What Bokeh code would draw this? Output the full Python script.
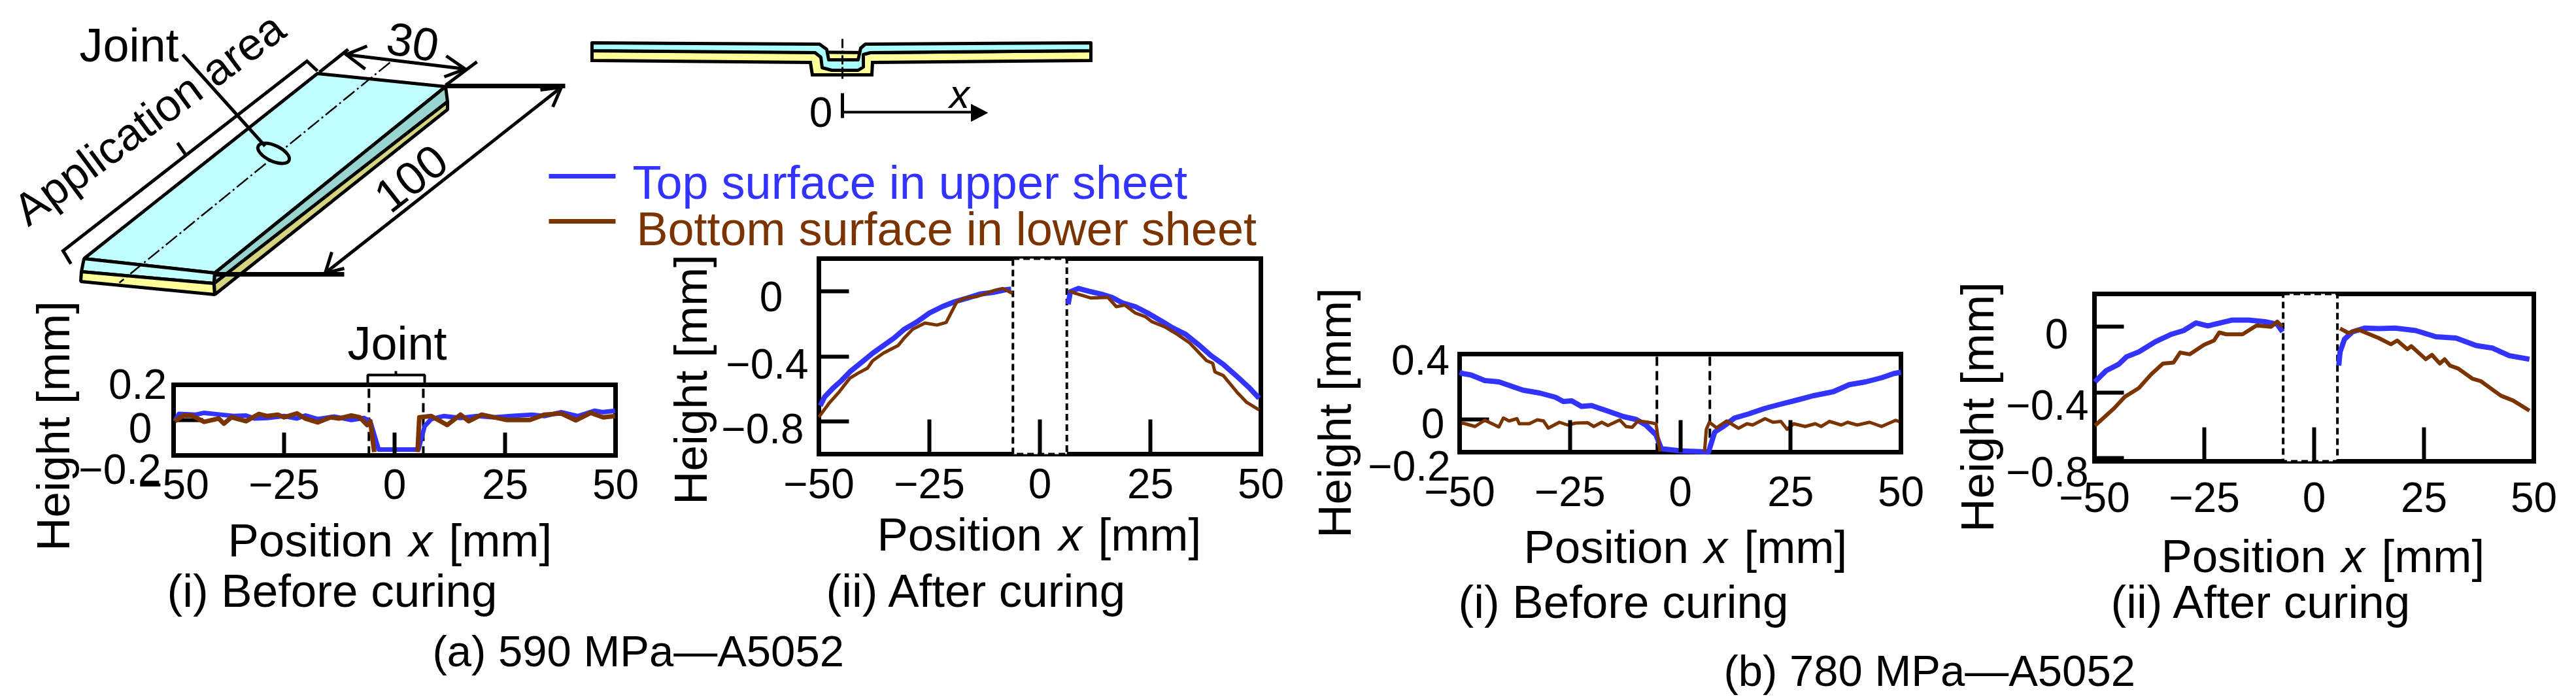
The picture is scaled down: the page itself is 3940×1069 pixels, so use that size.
import math
from bokeh.plotting import figure
from bokeh.models import Range1d, LinearAxis, FixedTicker
from bokeh.core.properties import value
from bokeh.embed import file_html
from bokeh.resources import INLINE

# ---------- chart data (mm, mm) ----------
X_TICKS = [-50, -25, 0, 25, 50]
X_TICK_LABELS = {-50: "\u221250", -25: "\u221225", 0: "0", 25: "25", 50: "50"}
LEGEND_TOP = "Top surface in upper sheet"
LEGEND_BOTTOM = "Bottom surface in lower sheet"

a1_blue_x = [-49.7,-48.8,-45,-43.1,-39.3,-36.4,-33.6,-31.7,-28.8,-25,-22.1,-20.2,-17.4,-13.6,-9.8,-6.9,-5.5,-3.6,5.4,6.8,8.3,11.1,14.9,18.7,22.5,26.3,31.1,33.9,37.7,41.5,45.3,47.2,49.9]
a1_blue_y = [-.006,.035,.031,.041,.031,.023,.026,.009,.012,.023,.009,.026,.006,.02,.001,.012,-.006,-.167,-.167,-.035,.006,.023,.012,.023,.016,.023,.031,.023,.045,.023,.053,.045,.053]
a1_brown_lx = [-49.7,-47.8,-45.9,-43.1,-39.8,-38.6,-36.9,-33.6,-30.7,-28.8,-26.4,-25,-22.1,-20.2,-17.4,-14.5,-12.6,-9.8,-7.9,-6.2,-5.5,-4.6]
a1_brown_ly = [-.006,.026,.026,-.01,.009,-.02,.016,-.006,.035,.023,.031,.016,.038,.009,-.013,.016,.009,.026,.016,-.028,-.006,-.181]
a1_brown_rx = [5.2,5.6,8.3,11.9,14.9,16.8,19.7,22.5,25.4,30.6,33.9,37.7,41,44.4,47.2,49.9]
a1_brown_ry = [-.181,.016,.023,-.028,.031,-.006,.031,.016,.001,.001,.031,.038,-.001,.041,.016,.023]

a2_blue_lx = [-49.7,-48.7,-46.8,-44.9,-43,-40.2,-37.8,-35.4,-33,-30.7,-27.8,-25,-22.1,-19.3,-16.4,-13.6,-10.7,-7.9,-6.5]
a2_blue_ly = [-.703,-.649,-.595,-.549,-.495,-.434,-.38,-.334,-.288,-.234,-.188,-.134,-.095,-.065,-.042,-.018,-.008,.008,.012]
a2_blue_rx = [6.4,6.9,8.7,11.1,13.9,16.3,18.7,21.6,24.4,27.3,30.1,33,35.8,38.7,41.5,44.4,47.2,49.6]
a2_blue_ry = [-.08,-.003,.017,0,-.018,-.038,-.072,-.095,-.134,-.18,-.226,-.265,-.326,-.395,-.449,-.518,-.588,-.657]
a2_brown_lx = [-50,-47.7,-45.4,-43,-41.1,-39,-37.8,-35.4,-32.1,-30.7,-28.8,-26,-23.3,-21.2,-18.8,-16.9,-14.5,-12.6,-10.3,-8.4,-6.2]
a2_brown_ly = [-.772,-.688,-.618,-.534,-.503,-.472,-.426,-.38,-.334,-.288,-.234,-.195,-.208,-.192,-.065,-.042,-.034,-.018,.005,.017,-.014]
a2_brown_rx = [6.6,8.3,11.6,15.4,17.3,19.2,21.6,23.9,25.4,28.2,31.1,33.9,35.8,37.7,39.1,39.6,41.5,43.4,44.8,46.7,49.6]
a2_brown_ry = [0,-.015,-.042,-.038,-.095,-.085,-.134,-.157,-.188,-.218,-.265,-.318,-.372,-.426,-.442,-.495,-.518,-.58,-.626,-.68,-.729]

b1_blue_x = [-50,-49.3,-47.4,-44.3,-41.1,-38.3,-35.6,-31.9,-28.3,-26.5,-24.6,-22.4,-20.1,-16.4,-12.8,-10,-7.8,-5.5,-4.3,0,6.4,7.8,9.6,12.3,15.5,19.2,22.8,26.5,30.1,34.7,38.3,42,45.6,48.4,50]
b1_blue_y = [.289,.281,.272,.238,.23,.204,.179,.162,.136,.11,.114,.08,.085,.051,.017,0,-.034,-.094,-.179,-.192,-.199,-.077,-.046,.009,.034,.068,.094,.119,.145,.17,.213,.23,.255,.281,.289]
b1_brown_lx = [-50,-49.3,-46.5,-44.3,-41.1,-40.1,-38.8,-37,-36.5,-34.2,-32.4,-31,-29.9,-27.4,-25.5,-23.7,-21,-19.6,-17.8,-16.4,-13.7,-12.3,-10.9,-9.6,-7.3,-5.5,-4.6]
b1_brown_ly = [-.034,-.022,-.043,-.005,-.046,.009,-.009,.005,-.026,-.026,-.002,-.009,-.053,-.017,-.034,-.022,-.02,-.043,-.017,-.037,-.003,-.043,-.048,-.009,-.017,-.026,-.196]
b1_brown_rx = [5.5,5.9,6.6,8.2,10.5,13.2,15.1,16.4,19.2,21,22.8,24.2,25.7,28.3,30.6,31.9,33.8,36.5,37.9,40.1,42.9,45.6,48.8,50]
b1_brown_ry = [-.196,-.06,-.017,-.051,-.009,-.054,-.026,-.034,.005,-.017,-.012,-.06,-.026,-.043,-.026,-.043,-.012,-.034,-.017,-.034,-.017,-.043,-.005,-.017]

b2_blue_lx = [-49.9,-47.3,-44.5,-42.7,-39.9,-36.2,-32.5,-29.7,-26.9,-24.2,-21.4,-18.6,-14.9,-11.2,-8.4,-7.2]
b2_blue_ly = [-.336,-.267,-.229,-.183,-.153,-.092,-.046,-.023,.023,.005,.023,.041,.041,.031,.015,-.031]
b2_blue_rx = [5.6,5.9,6.9,8.7,11.5,14.7,18.4,23.1,27.7,32.3,36.9,40.6,44.4,49]
b2_blue_ry = [-.237,-.153,-.076,-.031,-.008,-.011,-.008,-.023,-.061,-.069,-.115,-.13,-.176,-.198]
b2_brown_lx = [-49.9,-45.5,-43.1,-39.9,-37.1,-34.4,-32,-30.5,-28.3,-25.1,-22.8,-21.6,-20,-16.3,-13.1,-9.8,-8.4,-7.3]
b2_brown_ly = [-.603,-.496,-.427,-.374,-.29,-.224,-.218,-.157,-.168,-.111,-.084,-.035,-.046,-.046,.008,0,.031,0]
b2_brown_rx = [5.9,7.8,10.1,14.7,17.5,18.9,21.2,22.1,25.4,26.8,28.6,29.7,30.9,32.8,36,37.9,42.5,45.3,49]
b2_brown_ry = [-.011,-.038,-.018,-.069,-.107,-.084,-.137,-.118,-.198,-.171,-.224,-.198,-.237,-.255,-.316,-.331,-.42,-.45,-.511]

# ---------- style ----------
BLUE = "#3333FF"
BROWN = "#7B3300"
SANS = "Liberation Sans"
FS = 71
TICK_FS = 64
BASE_SHIFT = 0.32  # em, distance between this renderer's anchor and the glyph baseline

W, H = 3940, 1069
p = figure(width=W, height=H, output_backend="svg", toolbar_location=None,
           x_range=Range1d(0, W), y_range=Range1d(H, 0),
           x_axis_location=None, y_axis_location=None, min_border=0)
p.grid.visible = False
p.outline_line_color = None
p.background_fill_color = "white"


def label(x, y, s, size=FS, color="black", align="left", angle=0, style="normal"):
    a = math.radians(angle)
    d = BASE_SHIFT * size
    p.text([x - d * math.sin(a)], [y - d * math.cos(a)], text=[s], text_font=value(SANS),
           text_font_size=value(f"{size}px"), text_color=color,
           text_align=align, text_baseline="alphabetic", angle=angle, angle_units="deg",
           text_font_style=style)


# ---------- panels ----------
PANELS = [
    dict(name="a1", box=(265, 941, 588, 696), yr=(-0.2, 0.2), yt=[0.2, 0, -0.2], tick_in=35, ytick=45,
         ylabels=[("0.2", 210, 607), ("0", 214, 674), ("\u22120.2", 183, 737)], standoff=21,
         joint=(-5.8, 6.5), white=False, height=(104, 651),
         pos=(348, 625, 686, 849), cap=(255, 926, "(i) Before curing"),
         blue=[(a1_blue_x, a1_blue_y)], brown=[(a1_brown_lx, a1_brown_ly), (a1_brown_rx, a1_brown_ry)], bw=7, brw=7),
    dict(name="a2", box=(1252, 1928, 395, 694), yr=(-1.0, 0.2), yt=[0, -0.4, -0.8], tick_in=53, ytick=46,
         ylabels=[("0", 1179, 473), ("\u22120.4", 1173, 576), ("\u22120.8", 1166, 675)], standoff=22,
         joint=(-6.1, 6.1), white=True, height=(1079, 580),
         pos=(1341, 1619, 1679, 840), cap=(1263, 926, "(ii) After curing"),
         blue=[(a2_blue_lx, a2_blue_ly), (a2_blue_rx, a2_blue_ry)], brown=[(a2_brown_lx, a2_brown_ly), (a2_brown_rx, a2_brown_ry)], bw=8, brw=5),
    dict(name="b1", box=(2232, 2907, 541, 691), yr=(-0.2, 0.4), yt=[0.4, 0, -0.2], tick_in=49, ytick=45,
         ylabels=[("0.4", 2172, 570), ("0", 2191, 667), ("\u22120.2", 2155, 732)], standoff=37,
         joint=(-5.3, 6.7), white=False, height=(2064, 631),
         pos=(2330, 2606, 2667, 859), cap=(2230, 943, "(i) Before curing"),
         blue=[(b1_blue_x, b1_blue_y)], brown=[(b1_brown_lx, b1_brown_ly), (b1_brown_rx, b1_brown_ry)], bw=8, brw=5),
    dict(name="b2", box=(3203, 3875, 449, 705), yr=(-0.82, 0.2), yt=[0, -0.4, -0.8], tick_in=52, ytick=45,
         ylabels=[("0", 3145, 530), ("\u22120.4", 3131, 639), ("\u22120.8", 3131, 741)], standoff=32,
         joint=(-7.05, 5.3), white=True, height=(3047, 622),
         pos=(3305, 3581, 3642, 873), cap=(3228, 943, "(ii) After curing"),
         blue=[(b2_blue_lx, b2_blue_ly), (b2_blue_rx, b2_blue_ry)], brown=[(b2_brown_lx, b2_brown_ly), (b2_brown_rx, b2_brown_ry)], bw=8, brw=6),
]

for c in PANELS:
    l, r, t, b = c["box"]
    ymin, ymax = c["yr"]
    sx = (r - l) / 100.0
    sy = (b - t) / (ymax - ymin)
    xn, yn = "x_" + c["name"], "y_" + c["name"]
    p.extra_x_ranges[xn] = Range1d(-50 - l / sx, 50 + (W - r) / sx)
    p.extra_y_ranges[yn] = Range1d(ymin - (H - b) / sy, ymax + t / sy)
    kw = dict(x_range_name=xn, y_range_name=yn)

    # y axis ticks (tick texts are placed separately, as in the original they sit off the ticks)
    ya = LinearAxis(fixed_location=-50, bounds=(ymin, ymax), ticker=FixedTicker(ticks=c["yt"]), **kw)
    ya.major_tick_in = c["ytick"]
    ya.major_tick_out = 0
    ya.major_tick_line_width = 6
    ya.major_tick_line_color = "black"
    ya.minor_tick_line_color = None
    ya.axis_line_color = None
    ya.major_label_text_color = None
    ya.level = "underlay"
    p.add_layout(ya, "left")

    # frame
    p.quad(left=[-50], right=[50], bottom=[ymin], top=[ymax], fill_color=None, line_color="black",
           line_width=7, line_join="miter", **kw)

    # joint zone
    jl, jr = c["joint"]
    if c["white"]:
        p.quad(left=[jl], right=[jr], bottom=[ymin], top=[ymax], fill_color="white", line_color="black",
               line_width=4, line_dash=value([10, 6]), **kw)
    else:
        p.segment(x0=[jl, jr], x1=[jl, jr], y0=[ymin, ymin], y1=[ymax, ymax], line_color="black",
                  line_width=4, line_dash=value([14, 8]), **kw)

    # curves
    for xs, ys in c["blue"]:
        p.line(xs, ys, line_color=BLUE, line_width=c["bw"], line_join="round", **kw)
    for xs, ys in c["brown"]:
        p.line(xs, ys, line_color=BROWN, line_width=c["brw"], line_join="round", **kw)

    # x axis
    xa = LinearAxis(fixed_location=ymin, bounds=(-50, 50), ticker=FixedTicker(ticks=X_TICKS), **kw)
    xa.major_label_overrides = X_TICK_LABELS
    xa.major_tick_in = c["tick_in"]
    xa.major_tick_out = 0
    xa.major_tick_line_width = 6
    xa.major_tick_line_color = "black"
    xa.minor_tick_line_color = None
    xa.axis_line_color = None
    xa.major_label_text_font = SANS
    xa.major_label_text_font_size = f"{TICK_FS}px"
    xa.major_label_text_color = "black"
    xa.major_label_standoff = c["standoff"]
    p.add_layout(xa, "below")

    # y tick texts
    for s, x, y in c["ylabels"]:
        label(x, y, s, size=TICK_FS, align="center")

    # titles
    hx, hy = c["height"]
    label(hx, hy, "Height [mm]", align="center", angle=90)
    x0, x1, x2, base = c["pos"]
    label(x0, base, "Position")
    label(x1, base, "x", style="italic")
    label(x2, base, "[mm]")
    cx, cy, ct = c["cap"]
    label(cx, cy, ct)

# group captions
label(661, 1016, "(a) 590 MPa\u2014A5052", size=67)
label(2636, 1046, "(b) 780 MPa\u2014A5052", size=67)

# ---------- legend ----------
p.segment([839, 839], [269, 338], [941, 941], [269, 338], line_color=[BLUE, BROWN], line_width=7)
label(967, 302, LEGEND_TOP, color=BLUE, size=72)
label(973, 373, LEGEND_BOTTOM, color=BROWN, size=72)

# ---------- joint bracket in panel a1 ----------
p.multi_line([[562, 562, 649, 649], [605, 605]], [[588, 573, 573, 588], [573, 567]], line_color="black", line_width=4)
label(531, 548, "Joint", size=72)

# ---------- specimen sketch ----------
LW = 5
p.patch([485, 681, 328, 128], [112, 132, 417, 395], fill_color="#BFFFFF", line_color="black", line_width=LW)
p.patch([128, 328, 327, 124], [395, 417, 433, 415], fill_color="#BFFFFF", line_color="black", line_width=LW)
p.patch([124, 327, 328, 123], [415, 433, 450, 430], fill_color="#FFFF99", line_color="black", line_width=LW)
p.patch([681, 684, 327, 328], [132, 155, 433, 417], fill_color="#99D5D0", line_color="black", line_width=LW)
p.patch([684, 684, 328, 327], [155, 167, 450, 433], fill_color="#D5D580", line_color="black", line_width=LW)
p.line([596, 182], [95, 432], line_color="black", line_width=2.5, line_dash=[22, 5, 3, 5])
p.ellipse([418], [234], width=[52], height=[24], angle=[-25], angle_units="deg",
          fill_color="#BFFFFF", line_color="black", line_width=LW)
seg = dict(line_color="black", line_join="miter")
p.multi_line([[108, 96, 469, 485], [271, 284], [279, 405]], [[403, 383, 93, 108], [218, 237], [83, 223]], line_width=5, **seg)
p.multi_line([[488, 532], [681, 729], [529, 711], [561, 529, 558], [682, 711, 679]],
             [[110, 75], [130, 94], [83, 105], [70, 83, 105], [85, 105, 117]], line_width=5, **seg)
p.multi_line([[681, 864], [328, 526]], [[131, 131], [419, 419]], line_width=7, **seg)
p.multi_line([[858, 497], [826, 858, 845], [507, 497, 526]], [[133, 417], [137, 133, 163], [385, 417, 410]], line_width=5, **seg)
label(42, 346, "Application area", size=69, angle=36.5)
label(627, 86, "30", align="center", angle=-10)
label(642, 290, "100", align="center", angle=38)
label(121, 92, "Joint", size=72)

# ---------- cross-section sketch ----------
p.patch([905, 1239, 1242, 1333, 1334, 1668, 1668, 1330, 905], [92, 95, 114, 114, 95, 92, 77, 80, 77],
        fill_color="#FFFF99", line_color="black", line_width=5, line_join="miter")
p.patch([905, 1253, 1264, 1267, 1312, 1316, 1323, 1668, 1668, 1331, 1320, 1320, 1312, 1272, 1257, 1255, 1246, 905],
        [65, 67, 75, 91, 91, 73, 67, 65, 77, 80, 83, 102, 107, 107, 103, 87, 80, 77],
        fill_color="#AAFFFF", line_color="black", line_width=5, line_join="round")
p.line([1288, 1288], [59, 120], line_color="black", line_width=3, line_dash=[14, 4, 3, 4])
p.line([1288, 1288], [142, 180], line_color="black", line_width=5)
p.line([1288, 1485], [171, 171], line_color="black", line_width=4)
p.patch([1485, 1510, 1485], [159, 172, 185], fill_color="black", line_color="black", line_width=1)
label(1255, 191, "0", align="center", size=TICK_FS)
label(1467, 163, "x", style="italic", align="center", size=62)

open("out.html", "w").write(file_html(p, INLINE))
